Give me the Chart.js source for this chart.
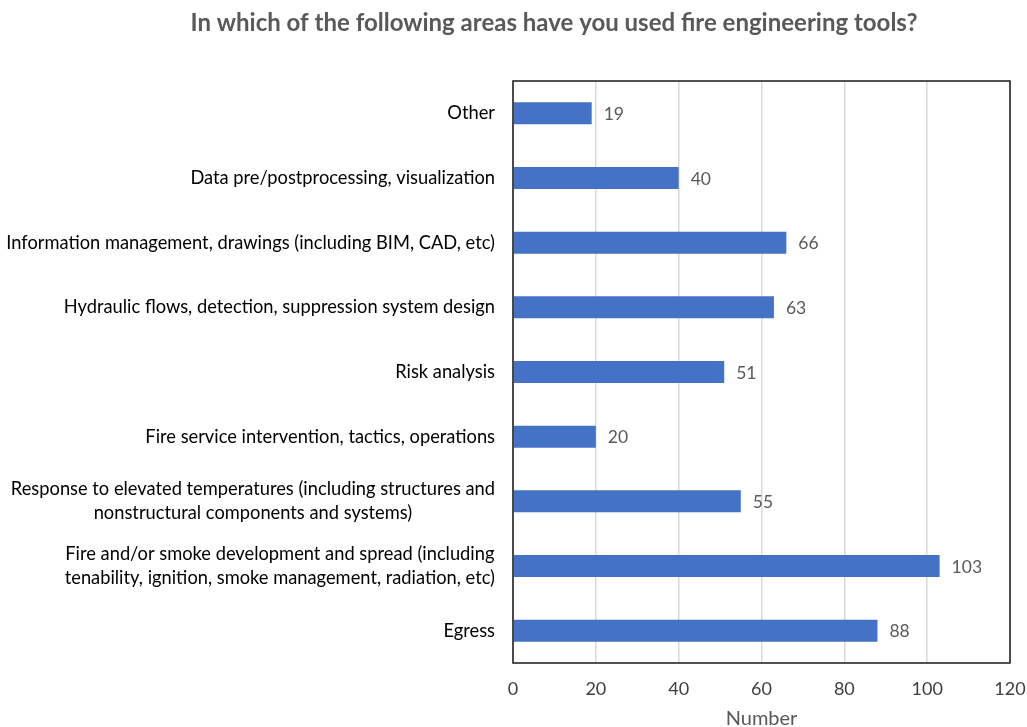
<!DOCTYPE html>
<html>
<head>
<meta charset="utf-8">
<script src="https://cdn.jsdelivr.net/npm/chart.js@4/dist/chart.umd.min.js"></script>
<style>
  html, body { margin: 0; padding: 0; background: #fff; }
  #wrap { width: 1027px; height: 727px; position: relative; }
</style>
</head>
<body>
<div id="wrap"><canvas id="c"></canvas></div>
<script>
// Survey categories, listed top to bottom
const categories = [
  ['Other'],
  ['Data pre/postprocessing, visualization'],
  ['Information management, drawings (including BIM, CAD, etc)'],
  ['Hydraulic flows, detection, suppression system design'],
  ['Risk analysis'],
  ['Fire service intervention, tactics, operations'],
  ['Response to elevated temperatures (including structures and', 'nonstructural components and systems)'],
  ['Fire and/or smoke development and spread (including', 'tenability, ignition, smoke management, radiation, etc)'],
  ['Egress']
];
// Number of respondents per category
const counts = [19, 40, 66, 63, 51, 20, 55, 103, 88];
// Axis ticks
const xTicks = [0, 20, 40, 60, 80, 100, 120];

const chartTitle = 'In which of the following areas have you used fire engineering tools?';
const xTitle = 'Number';

const FONT = 'Lato, "Open Sans", sans-serif';

// Draws the category labels (each line centred within its right-aligned block)
const categoryLabels = {
  id: 'categoryLabels',
  afterDraw(chart) {
    const ctx = chart.ctx;
    const y = chart.scales.y;
    ctx.save();
    ctx.font = '18.3px ' + FONT;
    ctx.fillStyle = '#000';
    ctx.textBaseline = 'middle';
    ctx.textAlign = 'center';
    const right = 495;
    const lh = 24;
    categories.forEach((lines, i) => {
      const cy = y.getPixelForValue(i);
      const w = Math.max(...lines.map(l => ctx.measureText(l).width));
      const cx = right - w / 2;
      const y0 = cy - (lines.length - 1) * lh / 2;
      lines.forEach((l, k) => ctx.fillText(l, cx, y0 + k * lh));
    });
    ctx.restore();
  }
};

// Value labels at the end of each bar
const valueLabels = {
  id: 'valueLabels',
  afterDatasetsDraw(chart) {
    const ctx = chart.ctx;
    const meta = chart.getDatasetMeta(0);
    ctx.save();
    ctx.font = '17.5px ' + FONT;
    ctx.fillStyle = '#595959';
    ctx.textBaseline = 'middle';
    ctx.textAlign = 'left';
    meta.data.forEach((bar, i) => {
      ctx.fillText(String(counts[i]), bar.x + 12, bar.y + 1);
    });
    ctx.restore();
  }
};

// Plot frame and chart heading
const frame = {
  id: 'frame',
  afterDraw(chart) {
    const ctx = chart.ctx;
    const a = chart.chartArea;
    ctx.save();
    ctx.strokeStyle = '#1a1a1a';
    ctx.lineWidth = 1.5;
    ctx.strokeRect(a.left, a.top, a.right - a.left, a.bottom - a.top);
    ctx.font = 'bold 24px ' + FONT;
    ctx.fillStyle = '#595959';
    ctx.textAlign = 'center';
    ctx.textBaseline = 'middle';
    ctx.fillText(chartTitle, 554, 23);
    ctx.restore();
  }
};

new Chart(document.getElementById('c'), {
  type: 'bar',
  data: {
    labels: categories,
    datasets: [{
      data: counts,
      backgroundColor: '#4472C4',
      borderWidth: 0,
      barPercentage: 1,
      categoryPercentage: 0.34
    }]
  },
  options: {
    indexAxis: 'y',
    responsive: true,
    maintainAspectRatio: false,
    animation: false,
    layout: { padding: { top: 81, right: 17, bottom: 0, left: 0 } },
    plugins: {
      legend: { display: false },
      tooltip: { enabled: false },
      title: { display: false }
    },
    scales: {
      x: {
        min: 0,
        max: 120,
        afterBuildTicks(scale) { scale.ticks = xTicks.map(v => ({ value: v })); },
        afterFit(scale) {
          scale.height = 64;
          scale.paddingLeft = 0;
          scale.paddingRight = 0;
        },
        ticks: {
          font: { family: FONT, size: 18 },
          color: '#404040',
          padding: 15
        },
        grid: { color: '#d9d9d9', lineWidth: 1.5, drawTicks: false },
        border: { display: false },
        title: {
          display: true,
          text: xTitle,
          font: { family: FONT, size: 20 },
          color: '#595959',
          padding: { top: 4, bottom: -4 }
        }
      },
      y: {
        afterFit(scale) { scale.width = 513; },
        ticks: { display: false },
        grid: { display: false },
        border: { display: false }
      }
    }
  },
  plugins: [categoryLabels, valueLabels, frame]
});
</script>
</body>
</html>
